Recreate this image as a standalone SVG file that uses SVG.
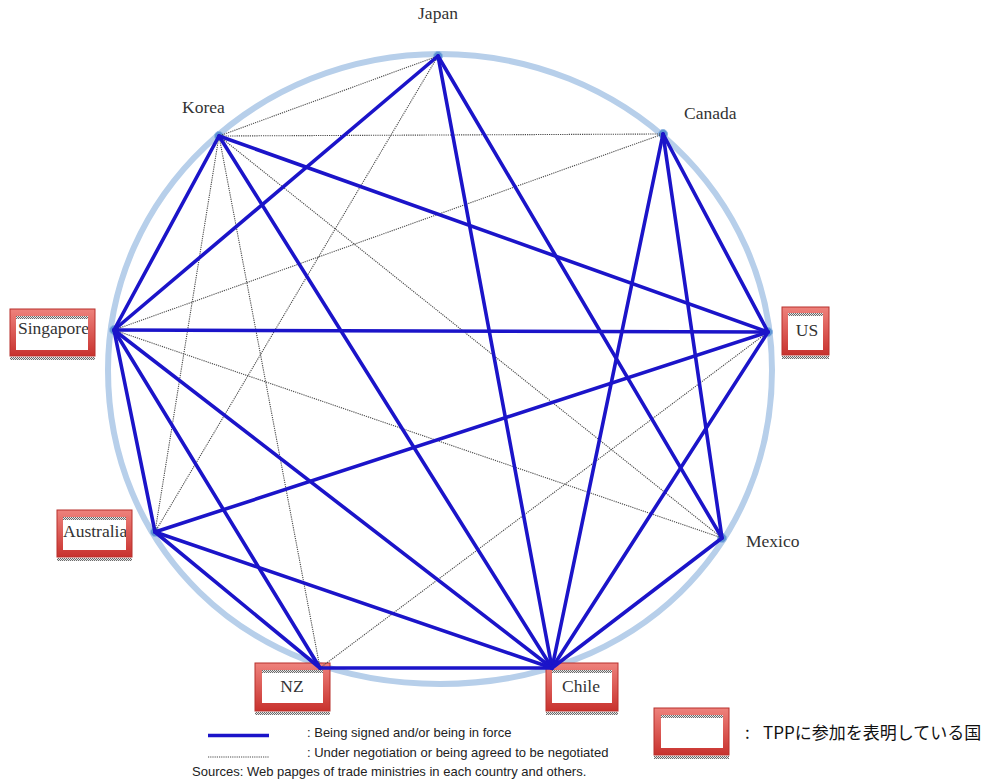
<svg xmlns="http://www.w3.org/2000/svg" width="983" height="784" viewBox="0 0 983 784">
<defs>
<linearGradient id="redg" x1="0" y1="0" x2="0" y2="1">
<stop offset="0" stop-color="#ee827c"/>
<stop offset="1" stop-color="#c8322e"/>
</linearGradient>
<pattern id="chk" width="2" height="2" patternUnits="userSpaceOnUse">
<rect width="2" height="2" fill="#e6e6e6"/>
<rect width="1" height="1" fill="#6a6a6a"/>
<rect x="1" y="1" width="1" height="1" fill="#6a6a6a"/>
</pattern>
<clipPath id="cSg"><rect x="16" y="316" width="72" height="34"/></clipPath>
<clipPath id="cAu"><rect x="63" y="517" width="63" height="33"/></clipPath>
<clipPath id="cCh"><rect x="552" y="670" width="60" height="33"/></clipPath>
</defs>
<style>
.ring{fill:none;stroke:#b7cfea;stroke-width:6}
.s{stroke:#1b14c9;stroke-width:3.6;stroke-linecap:round;fill:none}
.d{stroke:#4a4a4a;stroke-width:1.1;stroke-dasharray:1.2 1;fill:none}
.dot{fill:#5c93d4;stroke:#8fb6e3;stroke-width:1}
.lbl{font-family:"Liberation Serif","Times New Roman",serif;font-size:17.5px;fill:#333}
.out{fill:url(#redg);stroke:#b8302c;stroke-width:1}
.in{fill:#fff}
.chk{fill:url(#chk)}
.lg{font-family:"Liberation Sans",Arial,sans-serif;font-size:13px;fill:#222}
.jp{font-family:"Noto Sans CJK JP","Noto Sans",sans-serif;font-size:17px;fill:#111}
</style>
<rect width="983" height="784" fill="#fff"/>
<path class="ring" d="M440,54 C623.4,54 772,195.5 772,370 C772,543.4 639,684 440,684 C241,684 108,543.4 108,370 C108,195.5 256.6,54 440,54 Z"/>

<g id="node-japan"><circle class="dot" cx="438" cy="56" r="4.5"/><text class="lbl" x="438" y="19" text-anchor="middle">Japan</text></g>
<g id="node-korea"><circle class="dot" cx="219" cy="136" r="4.5"/><text class="lbl" x="182" y="113">Korea</text></g>
<g id="node-canada"><circle class="dot" cx="663" cy="134" r="4.5"/><text class="lbl" x="684" y="119">Canada</text></g>
<g id="node-mexico"><circle class="dot" cx="722" cy="538" r="4.5"/><text class="lbl" x="746" y="547">Mexico</text></g>
<g id="node-singapore"><circle class="dot" cx="114" cy="330" r="4.5"/>
<rect class="out" x="10" y="309" width="85" height="47"/><rect class="in" x="16" y="316" width="72" height="34"/><rect class="chk" x="16" y="316" width="72" height="3"/><rect class="chk" x="10" y="357" width="85" height="3"/>
<text class="lbl" x="18" y="334" clip-path="url(#cSg)">Singapore</text></g>
<g id="node-us"><circle class="dot" cx="768" cy="332" r="4.5"/>
<rect class="out" x="782" y="307" width="47" height="48"/><rect class="in" x="788" y="313" width="35" height="37"/><rect class="chk" x="788" y="313" width="35" height="3"/><rect class="chk" x="782" y="356" width="47" height="3"/>
<text class="lbl" x="807" y="336" text-anchor="middle">US</text></g>
<g id="node-australia"><circle class="dot" cx="155" cy="532" r="4.5"/>
<rect class="out" x="57" y="510" width="75" height="47"/><rect class="in" x="63" y="517" width="63" height="33"/><rect class="chk" x="63" y="517" width="63" height="3"/><rect class="chk" x="57" y="558" width="75" height="3"/>
<text class="lbl" x="63" y="537" clip-path="url(#cAu)">Australia</text></g>
<g id="node-nz"><circle class="dot" cx="320" cy="668" r="4.5"/>
<rect class="out" x="255" y="663" width="75" height="48"/><rect class="in" x="262" y="670" width="61" height="33"/><rect class="chk" x="262" y="670" width="61" height="3"/><rect class="chk" x="255" y="712" width="75" height="3"/>
<text class="lbl" x="292" y="692" text-anchor="middle">NZ</text></g>
<g id="node-chile"><circle class="dot" cx="552" cy="668" r="4.5"/>
<rect class="out" x="546" y="663" width="72" height="48"/><rect class="in" x="552" y="670" width="60" height="33"/><rect class="chk" x="552" y="670" width="60" height="3"/><rect class="chk" x="546" y="712" width="72" height="3"/>
<text class="lbl" x="562" y="692" clip-path="url(#cCh)">Chile</text></g>

<g id="connectors">
<g id="dotted">
<line class="d" x1="438" y1="56" x2="219" y2="136"/>
<line class="d" x1="219" y1="136" x2="663" y2="134"/>
<line class="d" x1="114" y1="330" x2="663" y2="134"/>
<line class="d" x1="438" y1="56" x2="155" y2="532"/>
<line class="d" x1="219" y1="136" x2="155" y2="532"/>
<line class="d" x1="219" y1="136" x2="320" y2="668"/>
<line class="d" x1="219" y1="136" x2="722" y2="538"/>
<line class="d" x1="114" y1="330" x2="722" y2="538"/>
<line class="d" x1="768" y1="332" x2="320" y2="668"/>
</g>
<g id="solid">
<line class="s" x1="438" y1="56" x2="114" y2="330"/>
<line class="s" x1="438" y1="56" x2="552" y2="668"/>
<line class="s" x1="438" y1="56" x2="722" y2="538"/>
<line class="s" x1="219" y1="136" x2="114" y2="330"/>
<line class="s" x1="219" y1="136" x2="768" y2="332"/>
<line class="s" x1="219" y1="136" x2="552" y2="668"/>
<line class="s" x1="663" y1="134" x2="768" y2="332"/>
<line class="s" x1="663" y1="134" x2="722" y2="538"/>
<line class="s" x1="663" y1="134" x2="552" y2="668"/>
<line class="s" x1="114" y1="330" x2="768" y2="332"/>
<line class="s" x1="114" y1="330" x2="155" y2="532"/>
<line class="s" x1="114" y1="330" x2="320" y2="668"/>
<line class="s" x1="114" y1="330" x2="552" y2="668"/>
<line class="s" x1="155" y1="532" x2="768" y2="332"/>
<line class="s" x1="155" y1="532" x2="320" y2="668"/>
<line class="s" x1="155" y1="532" x2="552" y2="668"/>
<line class="s" x1="320" y1="668" x2="552" y2="668"/>
<line class="s" x1="768" y1="332" x2="552" y2="668"/>
<line class="s" x1="722" y1="538" x2="552" y2="668"/>
</g>
</g>

<g id="legend">
<line x1="208" y1="735.5" x2="269" y2="735.5" stroke="#1b14c9" stroke-width="3.5"/>
<line class="d" x1="208" y1="757" x2="269" y2="757"/>
<text class="lg" x="307" y="737">: Being signed and/or being in force</text>
<text class="lg" x="307" y="757">: Under negotiation or being agreed to be negotiated</text>
<text class="lg" x="192" y="776">Sources: Web papges of trade ministries in each country and others.</text>
<rect class="out" x="654" y="708" width="75" height="47"/><rect class="in" x="661" y="715" width="62" height="33"/><rect class="chk" x="661" y="715" width="62" height="3"/><rect class="chk" x="654" y="756" width="75" height="3"/>
<text class="jp" x="745" y="739">:</text>
<text class="jp" x="763" y="739">TPPに参加を表明している国</text>
</g>
</svg>
